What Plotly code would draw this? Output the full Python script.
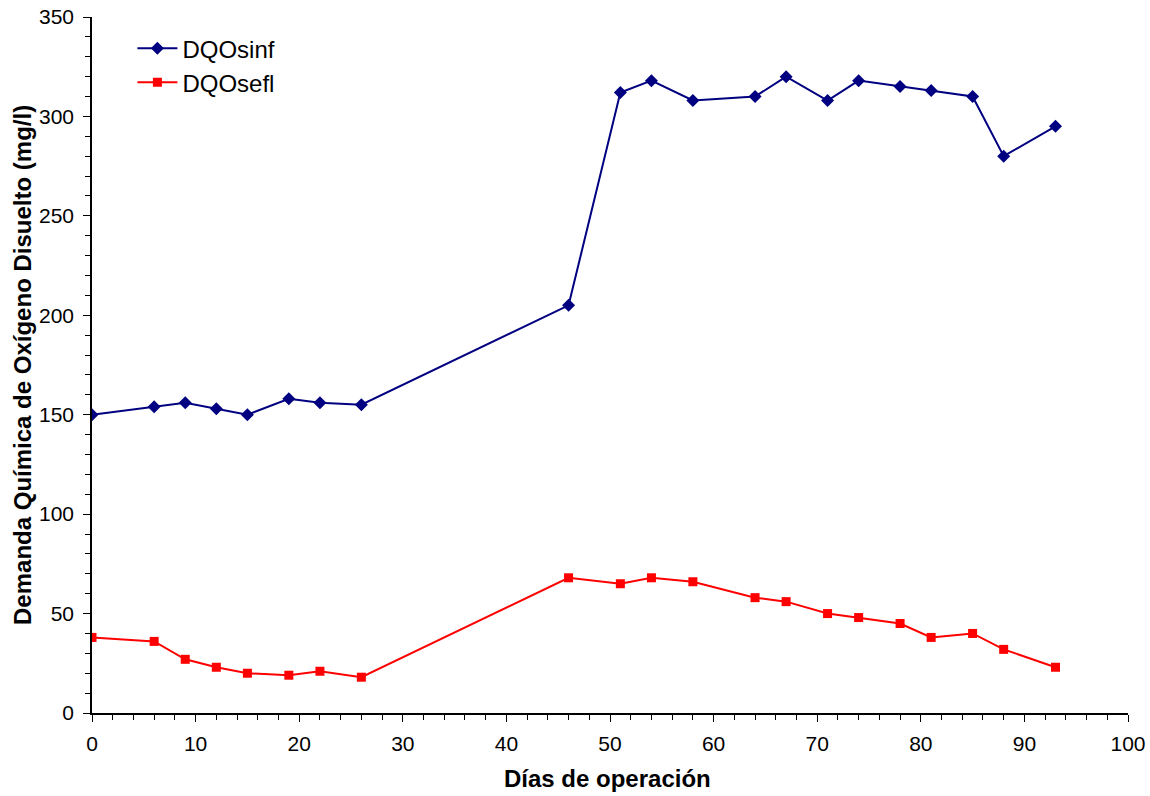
import plotly.graph_objects as go

dias = [0, 6, 9, 12, 15, 19, 22, 26, 46, 51, 54, 58, 64, 67, 71, 74, 78, 81, 85, 88, 93]
dqo_inf = [150, 154, 156, 153, 150, 158, 156, 155, 205, 312, 318, 308, 310, 320, 308, 318, 315, 313, 310, 280, 295]
dqo_efl = [38, 36, 27, 23, 20, 19, 21, 18, 68, 65, 68, 66, 58, 56, 50, 48, 45, 38, 40, 32, 23]

FONT = "Liberation Sans, Arial, sans-serif"

fig = go.Figure()
fig.add_trace(go.Scatter(x=dias, y=dqo_inf, name="DQOsinf", mode="lines+markers",
                         line=dict(color="#000080", width=2),
                         marker=dict(symbol="diamond", size=10, color="#000080")))
fig.add_trace(go.Scatter(x=dias, y=dqo_efl, name="DQOsefl", mode="lines+markers",
                         line=dict(color="#FF0000", width=2),
                         marker=dict(symbol="square", size=9, color="#FF0000")))

fig.update_layout(
    width=1150, height=796,
    margin=dict(l=92, r=22, t=17, b=83, autoexpand=False),
    paper_bgcolor="white", plot_bgcolor="white",
    font=dict(family=FONT, size=21, color="black"),
    legend=dict(x=0.039, y=0.987, xanchor="left", yanchor="top",
                font=dict(size=24, family=FONT), bgcolor="rgba(0,0,0,0)",
                itemwidth=40, tracegroupgap=0),
    showlegend=True,
    annotations=[
        dict(text="<b>Días de operación</b>", xref="paper", yref="paper",
             x=0.498, y=-0.0934, xanchor="center", yanchor="middle", showarrow=False,
             font=dict(size=24, family=FONT, color="black")),
        dict(text="<b>Demanda Química de Oxígeno Disuelto (mg/l)</b>", xref="paper", yref="paper",
             x=-0.0676, y=0.5, xanchor="center", yanchor="middle", textangle=-90, showarrow=False,
             font=dict(size=24, family=FONT, color="black")),
    ],
)
fig.update_xaxes(range=[0, 100], tickmode="linear", tick0=0, dtick=10, automargin=False,
                 showgrid=False, zeroline=False, showline=True, linecolor="black", linewidth=1.5,
                 ticks="outside", ticklen=7, tickcolor="black", ticklabelstandoff=4,
                 minor=dict(dtick=2, ticks="outside", ticklen=5, tickcolor="black", showgrid=False),
                 tickfont=dict(size=21, family=FONT))
fig.update_yaxes(range=[0, 350], tickmode="linear", tick0=0, dtick=50, automargin=False,
                 showgrid=False, zeroline=False, showline=True, linecolor="black", linewidth=1.5,
                 ticks="outside", ticklen=7, tickcolor="black", ticklabelstandoff=5,
                 minor=dict(dtick=10, ticks="outside", ticklen=5, tickcolor="black", showgrid=False),
                 tickfont=dict(size=21, family=FONT))

fig.write_html("out.html", config={"displayModeBar": False},
               post_script="document.body.style.margin='0';document.body.style.padding='0';")
